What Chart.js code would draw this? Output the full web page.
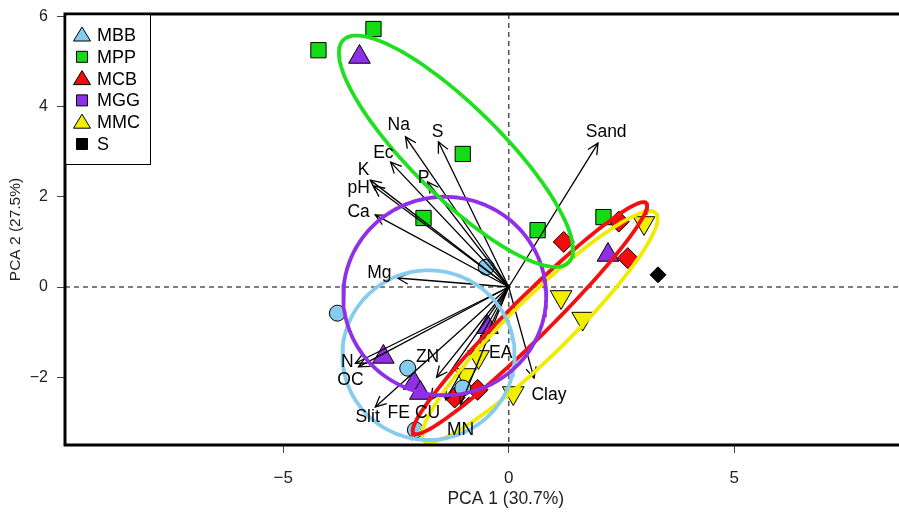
<!DOCTYPE html>
<html><head><meta charset="utf-8">
<script src="https://cdn.jsdelivr.net/npm/chart.js@4.4.0/dist/chart.umd.min.js"></script>
<style>
html,body{margin:0;padding:0;background:#fff;overflow:hidden;width:899px;height:513px}
#wrap{width:960px;height:513px}
</style></head>
<body><div id="wrap"><canvas id="c" width="960" height="513"></canvas></div>
<script>
// ---------- data ----------
const groups = ['MBB','MPP','MCB','MGG','MMC','S'];
const mbbX = [-3.80, -2.24, -2.07, -1.02, -0.50];
const mbbY = [-0.58, -1.80, -3.17, -2.24, 0.44];
const mppX = [-4.22, -3.00, -1.02, -1.89, 0.64, 2.10];
const mppY = [5.25, 5.72, 2.95, 1.53, 1.26, 1.55];
const mcbX = [1.22, 2.44, 2.64, -1.20, -0.69];
const mcbY = [1.00, 1.45, 0.64, -2.45, -2.28];
const mggX = [-3.31, 2.20, -0.47, -2.78, -2.10, -1.96];
const mggY = [5.10, 0.71, -0.89, -1.55, -2.13, -2.35];
const mmcX = [3.00, 1.16, 1.64, -0.67, -0.96, 0.10];
const mmcY = [1.42, -0.22, -0.70, -1.55, -1.95, -2.35];
const sX = [3.31];
const sY = [0.27];

// confidence ellipses: centre, semi-axes, angle (deg)
const ellGroups = ['MPP','MGG','MBB','MCB','MMC'];
const ellCx = [-1.17, -1.42, -1.78, 0.47, 0.69];
const ellCy = [3.01, -0.20, -1.51, -0.69, -0.88];
const ellA  = [3.51, 2.25, 1.91, 3.63, 3.60];
const ellB  = [1.00, 2.20, 1.88, 0.45, 0.65];
const ellDeg = [-44.6, 0, 0, 44.7, 44.4];

// variable loadings (arrow tips) and their label anchors
const varNames = ['Na','S','Sand','Ec','K','pH','P','Ca','Mg','N','OC','ZN','Slit','FE','CU','MN','EA','Clay'];
const loadX = [-2.29,-1.56,1.98,-2.62,-3.07,-3.00,-1.80,-2.96,-2.47,-3.40,-3.33,-1.60,-2.96,-1.73,-1.40,-1.07,-0.62,0.56];
const loadY = [3.33,3.22,3.19,2.77,2.37,2.24,2.33,1.60,0.20,-1.69,-1.77,-2.00,-2.66,-2.50,-2.50,-2.62,-1.33,-2.02];
const labX  = [-2.44,-1.58,2.16,-2.78,-3.22,-3.33,-1.89,-3.33,-2.87,-3.58,-3.51,-1.80,-3.13,-2.44,-1.80,-1.07,-0.18,0.89];
const labY  = [3.59,3.44,3.44,2.97,2.59,2.20,2.42,1.66,0.31,-1.66,-2.06,-1.55,-2.88,-2.79,-2.79,-3.17,-1.46,-2.39];

const xTicks = [-5, 0, 5];
const yTicks = [-2, 0, 2, 4, 6];
const xTitle = 'PCA 1 (30.7%)';
const yTitle = 'PCA 2 (27.5%)';

// ---------- styles ----------
const FONT = "'Liberation Sans', Arial, Helvetica, sans-serif";
const fill = {MBB:'#84CBEE', MPP:'#14DC14', MCB:'#F20D0D', MGG:'#8F2FE6', MMC:'#F2EE00', S:'#000000'};
const ellCol = {MPP:'#1FE01F', MGG:'#8F2FE6', MBB:'#86CCEE', MCB:'#F21010', MMC:'#F0EC00'};
const legendShape = {MBB:'tri', MPP:'sq', MCB:'tri', MGG:'sq', MMC:'tri', S:'sq'};

const pts = (xs, ys) => xs.map((x, i) => ({x, y: ys[i]}));
function ellipsePts(cx, cy, a, b, deg) {
  const t = deg * Math.PI / 180, out = [];
  for (let k = 0; k <= 160; k++) {
    const u = k / 160 * 2 * Math.PI;
    const ex = a * Math.cos(u), ey = b * Math.sin(u);
    out.push({x: cx + ex * Math.cos(t) - ey * Math.sin(t), y: cy + ex * Math.sin(t) + ey * Math.cos(t)});
  }
  return out;
}

const datasets = [];
const pointSpec = [
  ['MBB', mbbX, mbbY, 'circle', 8, 0],
  ['MPP', mppX, mppY, 'rect', 10.8, 0],
  ['MCB', mcbX, mcbY, 'rectRot', 10.5, 0],
  ['MGG', mggX, mggY, 'triangle', 12.5, 0],
  ['MMC', mmcX, mmcY, 'triangle', 12.5, 180],
  ['S', sX, sY, 'rectRot', 8, 0]
];
pointSpec.forEach(([g, xs, ys, st, r, rot]) => {
  datasets.push({label: g, data: pts(xs, ys), showLine: false, pointStyle: st, pointRadius: r,
    pointRotation: rot, backgroundColor: fill[g], borderColor: '#000', borderWidth: 1, order: 10});
});
varNames.forEach((n, i) => {
  datasets.push({label: n, isArrow: true, data: [{x: 0, y: 0}, {x: loadX[i], y: loadY[i]}], showLine: true,
    borderColor: '#000', borderWidth: 1.3, pointRadius: 0, fill: false, order: 5});
});
ellGroups.forEach((g, i) => {
  datasets.push({label: g + ' ellipse', data: ellipsePts(ellCx[i], ellCy[i], ellA[i], ellB[i], ellDeg[i]),
    showLine: true, borderColor: ellCol[g], borderWidth: 3.8, pointRadius: 0, tension: 0, fill: false, order: 0});
});

const fmt = v => v < 0 ? '\u2212' + Math.abs(v) : String(v);

const refLines = {
  id: 'refLines',
  beforeDatasetsDraw(chart) {
    const {ctx, chartArea: a, scales: {x, y}} = chart;
    ctx.save();
    ctx.strokeStyle = '#555'; ctx.lineWidth = 1.5; ctx.setLineDash([5, 4]);
    const px = x.getPixelForValue(0), py = y.getPixelForValue(0);
    ctx.beginPath(); ctx.moveTo(px, a.top); ctx.lineTo(px, a.bottom); ctx.stroke();
    ctx.beginPath(); ctx.moveTo(a.left, py); ctx.lineTo(a.right, py); ctx.stroke();
    ctx.restore();
  }
};

const arrowHeads = {
  id: 'arrowHeads',
  afterDatasetDraw(chart, args) {
    const ds = chart.data.datasets[args.index];
    if (!ds.isArrow) return;
    const p = args.meta.data;
    const x0 = p[0].x, y0 = p[0].y, x1 = p[1].x, y1 = p[1].y;
    const ang = Math.atan2(y1 - y0, x1 - x0), L = 12, spread = 0.45;
    const ctx = chart.ctx;
    ctx.save();
    ctx.strokeStyle = '#000'; ctx.lineWidth = 1.3;
    ctx.beginPath();
    ctx.moveTo(x1 - L * Math.cos(ang - spread), y1 - L * Math.sin(ang - spread));
    ctx.lineTo(x1, y1);
    ctx.lineTo(x1 - L * Math.cos(ang + spread), y1 - L * Math.sin(ang + spread));
    ctx.stroke();
    ctx.restore();
  }
};

const overlay = {
  id: 'overlay',
  afterDatasetsDraw(chart) {
    const {ctx, chartArea: a, scales: {x, y}} = chart;
    ctx.save();
    // variable labels
    ctx.fillStyle = '#000'; ctx.font = '17.5px ' + FONT; ctx.textAlign = 'center'; ctx.textBaseline = 'middle';
    varNames.forEach((n, i) => ctx.fillText(n, x.getPixelForValue(labX[i]), y.getPixelForValue(labY[i])));
    // frame (top, left, bottom)
    ctx.strokeStyle = '#000'; ctx.lineWidth = 3; ctx.setLineDash([]);
    ctx.beginPath();
    ctx.moveTo(a.right + 10, a.top); ctx.lineTo(a.left, a.top); ctx.lineTo(a.left, a.bottom); ctx.lineTo(a.right + 10, a.bottom);
    ctx.stroke();
    // legend
    const lx = a.left, ly = a.top, lw = 85, lh = 150;
    ctx.fillStyle = '#fff'; ctx.fillRect(lx + 1.5, ly + 1.5, lw - 1.5, lh - 1.5);
    ctx.lineWidth = 1; ctx.strokeStyle = '#000';
    ctx.strokeRect(lx + 0.5, ly + 0.5, lw, lh);
    ctx.font = '18px ' + FONT; ctx.textAlign = 'left'; ctx.textBaseline = 'middle';
    groups.forEach((g, i) => {
      const cy = ly + 21 + i * 21.8, cx = lx + 17;
      ctx.fillStyle = fill[g]; ctx.strokeStyle = '#000'; ctx.lineWidth = 1;
      ctx.beginPath();
      if (legendShape[g] === 'tri') {
        ctx.moveTo(cx, cy - 8); ctx.lineTo(cx + 8.5, cy + 6); ctx.lineTo(cx - 8.5, cy + 6); ctx.closePath();
      } else {
        ctx.rect(cx - 5.5, cy - 5.5, 11, 11);
      }
      ctx.fill(); ctx.stroke();
      ctx.fillStyle = '#000';
      ctx.fillText(g, lx + 32, cy + 1);
    });
    ctx.restore();
  }
};

new Chart(document.getElementById('c'), {
  type: 'scatter',
  data: {datasets},
  options: {
    responsive: false, animation: false, events: [],
    layout: {padding: {left: 0, top: 14, right: 5, bottom: 0}},
    plugins: {legend: {display: false}, tooltip: {enabled: false}},
    scales: {
      x: {
        type: 'linear', min: -9.84, max: 9.707,
        afterBuildTicks: s => { s.ticks = xTicks.map(v => ({value: v})); },
        afterFit: s => { s.height = 68; s.paddingLeft = 0; s.paddingRight = 0; },
        ticks: {callback: fmt, font: {family: FONT, size: 17}, color: '#222', padding: 15, maxRotation: 0, autoSkip: false},
        grid: {drawOnChartArea: false, drawTicks: true, tickLength: 8, tickColor: '#444', tickWidth: 1},
        border: {display: false},
        title: {display: true, text: xTitle, font: {family: FONT, size: 17.5}, color: '#222', padding: {top: 0, bottom: 3}}
      },
      y: {
        type: 'linear', min: -3.503, max: 6.053,
        afterBuildTicks: s => { s.ticks = yTicks.map(v => ({value: v})); },
        afterFit: s => { s.width = 65; s.paddingTop = 0; s.paddingBottom = 0; },
        ticks: {callback: fmt, font: {family: FONT, size: 16}, color: '#222', padding: 9, autoSkip: false},
        grid: {drawOnChartArea: false, drawTicks: true, tickLength: 8, tickColor: '#444', tickWidth: 1},
        border: {display: false},
        title: {display: true, text: yTitle, font: {family: FONT, size: 15.5}, color: '#222', padding: {top: 6, bottom: 0}}
      }
    }
  },
  plugins: [refLines, arrowHeads, overlay]
});
</script>
</body></html>
